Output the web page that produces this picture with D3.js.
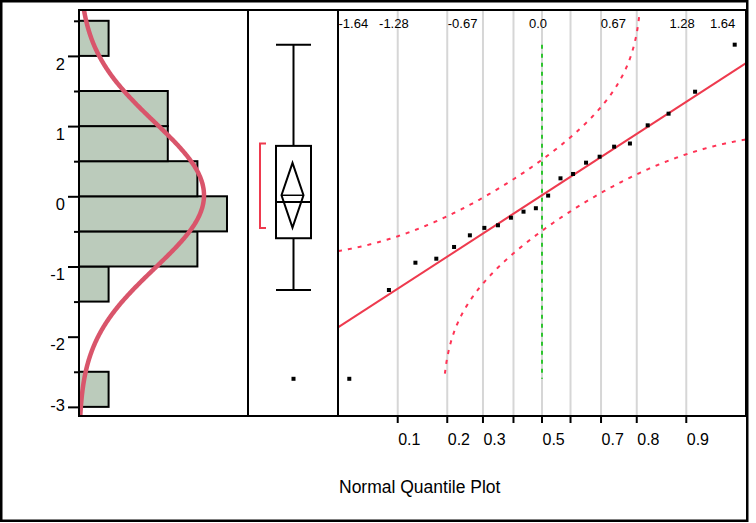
<!DOCTYPE html>
<html>
<head>
  <meta charset="UTF-8">
  <script src="https://d3js.org/d3.v7.min.js"></script>
</head>
<body style="margin:0;background:#fff">
  <svg id="chart" width="756" height="523"></svg>
<style>
  text { font-family: 'Liberation Sans', Arial, sans-serif; fill: #000; }
  .frame { stroke: #000; stroke-width: 2; fill: none; }
</style>
<script>
  // data (sorted)
  const values = [-2.60, -1.335, -0.946, -0.889, -0.722, -0.556, -0.45, -0.413, -0.305, -0.219,
                  -0.17, 0.01, 0.256, 0.318, 0.479, 0.564, 0.707, 0.752, 1.011, 1.177, 1.49, 2.16];
  const yMajor = [-3, -2, -1, 0, 1, 2];
  const yMinor = [-2.5, -1.5, -0.5, 0.5, 1.5, 2.5];
  const probTicks = [0.1, 0.2, 0.3, 0.4, 0.5, 0.6, 0.7, 0.8, 0.9];
  const probLabels = ['0.1', '0.2', '0.3', '', '0.5', '', '0.7', '0.8', '0.9'];
  const zTicks = [-1.64, -1.28, -0.67, 0, 0.67, 1.28, 1.64];
  const zLabels = ['-1.64', '-1.28', '-0.67', '0.0', '0.67', '1.28', '1.64'];
  const binEdges = [-3, -2.5, -2, -1.5, -1, -0.5, 0, 0.5, 1, 1.5, 2, 2.5];
  const lillieD = 0.187;

  // normal helpers
  function normCdf(x) {
    const t = 1 / (1 + 0.2316419 * Math.abs(x));
    const p = 0.3989423 * Math.exp(-x * x / 2) *
      t * (0.3193815 + t * (-0.3565638 + t * (1.781478 + t * (-1.821256 + t * 1.330274))));
    return x > 0 ? 1 - p : p;
  }
  function probit(p) {
    const a = [-3.969683028665376e+01, 2.209460984245205e+02, -2.759285104469687e+02, 1.383577518672690e+02, -3.066479806614716e+01, 2.506628277459239e+00];
    const b = [-5.447609879822406e+01, 1.615858368580409e+02, -1.556989798598866e+02, 6.680131188771972e+01, -1.328068155288572e+01];
    const c = [-7.784894002430293e-03, -3.223964580411365e-01, -2.400758277161838e+00, -2.549732539343734e+00, 4.374664141464968e+00, 2.938163982698783e+00];
    const d = [7.784695709041462e-03, 3.224671290700398e-01, 2.445134137142996e+00, 3.754408661907416e+00];
    const pl = 0.02425;
    let q, r;
    if (p < pl) {
      q = Math.sqrt(-2 * Math.log(p));
      return (((((c[0]*q+c[1])*q+c[2])*q+c[3])*q+c[4])*q+c[5]) / ((((d[0]*q+d[1])*q+d[2])*q+d[3])*q+1);
    } else if (p <= 1 - pl) {
      q = p - 0.5; r = q * q;
      return (((((a[0]*r+a[1])*r+a[2])*r+a[3])*r+a[4])*r+a[5])*q / (((((b[0]*r+b[1])*r+b[2])*r+b[3])*r+b[4])*r+1);
    }
    q = Math.sqrt(-2 * Math.log(1 - p));
    return -(((((c[0]*q+c[1])*q+c[2])*q+c[3])*q+c[4])*q+c[5]) / ((((d[0]*q+d[1])*q+d[2])*q+d[3])*q+1);
  }

  const n = values.length;
  const mean = d3.mean(values), sd = d3.deviation(values);

  // layout
  const xL = 79, xH = 248, xB = 338, xR = 746, yT = 10, yBt = 416;
  const svg = d3.select('#chart');

  const y = d3.scaleLinear().domain([-3.13, 2.654]).range([yBt, yT]);
  const cx = d3.scaleLinear().domain([0, 5.71]).range([xL, xH]);
  const zx = d3.scaleLinear().domain([-1.812, 1.812]).range([xB, xR]);

  // outer border
  svg.append('rect').attr('x', 1.25).attr('y', 1.25).attr('width', 746).attr('height', 519.5)
    .attr('fill', 'none').attr('stroke', '#000').attr('stroke-width', 2.5);

  // ---- histogram
  const bins = d3.bin().domain([-3, 2.5]).thresholds(binEdges.slice(1, -1))(values);
  svg.append('g').selectAll('rect').data(bins.filter(b => b.length > 0)).join('rect')
    .attr('x', xL)
    .attr('y', b => y(b.x1))
    .attr('width', b => cx(b.length) - xL)
    .attr('height', b => y(b.x0) - y(b.x1))
    .attr('fill', '#bbcbbb').attr('stroke', '#000').attr('stroke-width', 2);

  const curveY = d3.range(0, 301).map(i => -3.13 + i * (2.654 + 3.13) / 300);
  const dens = v => n * 0.5 * Math.exp(-0.5 * ((v - mean) / sd) ** 2) / (sd * Math.sqrt(2 * Math.PI));
  svg.append('path').datum(curveY)
    .attr('d', d3.line().x(v => cx(dens(v))).y(v => y(v)).curve(d3.curveBasis))
    .attr('fill', 'none').attr('stroke', '#d9556b').attr('stroke-width', 4.5);

  // y axis (labels hang below the tick, kept inside the plot at the bottom)
  const ax = svg.append('g').attr('transform', `translate(${xL},0)`)
    .call(d3.axisLeft(y).tickValues(yMajor).tickSize(11).tickPadding(3).tickFormat(d => String(d)));
  ax.select('.domain').remove();
  ax.selectAll('line').attr('stroke-width', 2);
  ax.selectAll('text').style('font-size', '16.5px').attr('dy', null)
    .attr('y', d => Math.min(13.2, yBt - 6 - y(d)));
  const axm = svg.append('g').attr('transform', `translate(${xL},0)`)
    .call(d3.axisLeft(y).tickValues(yMinor).tickSize(5).tickFormat(''));
  axm.select('.domain').remove();
  axm.selectAll('line').attr('stroke-width', 2);

  // ---- box plot
  const bxC = 293.5, bxW = 17.5, dW = 11;
  const p = t => { const h = t * (n + 1) - 1, i = Math.floor(h); return values[i] + (h - i) * (values[i + 1] - values[i]); };
  const Q1 = p(0.25), Q3 = p(0.75), med = d3.median(values);
  const iqr = Q3 - Q1;
  const inside = values.filter(v => v >= Q1 - 1.5 * iqr && v <= Q3 + 1.5 * iqr);
  const wLo = d3.min(inside), wHi = d3.max(inside);
  const outl = values.filter(v => v < wLo || v > wHi);
  const bp = svg.append('g').attr('stroke', '#000').attr('stroke-width', 2).attr('fill', 'none');
  bp.append('line').attr('x1', bxC).attr('x2', bxC).attr('y1', y(wHi)).attr('y2', y(Q3));
  bp.append('line').attr('x1', bxC).attr('x2', bxC).attr('y1', y(Q1)).attr('y2', y(wLo));
  [wHi, wLo].forEach(v => bp.append('line').attr('x1', bxC - bxW).attr('x2', bxC + bxW).attr('y1', y(v)).attr('y2', y(v)));
  bp.append('rect').attr('x', bxC - bxW).attr('width', 2 * bxW).attr('y', y(Q3)).attr('height', y(Q1) - y(Q3));
  bp.append('line').attr('x1', bxC - bxW).attr('x2', bxC + bxW).attr('y1', y(med)).attr('y2', y(med));
  const ci = 2.080 * sd / Math.sqrt(n);
  bp.append('path').attr('d', `M${bxC - 1},${y(mean + ci)} L${bxC - 1 + dW},${y(mean)} L${bxC - 1},${y(mean - ci)} L${bxC - 1 - dW},${y(mean)} Z`);
  bp.append('line').attr('x1', bxC - 1 - dW).attr('x2', bxC - 1 + dW).attr('y1', y(mean)).attr('y2', y(mean)).attr('stroke-width', 1.5);
  // shortest half
  const k = Math.floor(n / 2) + 1;
  let best = 0;
  for (let i = 0; i + k - 1 < n; i++) if (values[i + k - 1] - values[i] < values[best + k - 1] - values[best]) best = i;
  const sLo = values[best], sHi = values[best + k - 1];
  svg.append('path').attr('d', `M266,${y(sHi)} H260 V${y(sLo)} H266`)
    .attr('fill', 'none').attr('stroke', '#ee3a4e').attr('stroke-width', 2);
  svg.append('g').selectAll('rect').data(outl).join('rect')
    .attr('x', bxC - 2).attr('y', v => y(v) - 2).attr('width', 4).attr('height', 4).attr('fill', '#000');

  // ---- quantile plot
  const grid = svg.append('g');
  grid.selectAll('line').data(probTicks).join('line')
    .attr('x1', d => zx(probit(d))).attr('x2', d => zx(probit(d)))
    .attr('y1', yT).attr('y2', yBt).attr('stroke', '#d6d6d6').attr('stroke-width', 2);

  const yMin = d3.min(values), yMax = d3.max(values);
  svg.append('line').attr('x1', zx(0)).attr('x2', zx(0)).attr('y1', y(yMax)).attr('y2', y(yMin))
    .attr('stroke', '#2ec52e').attr('stroke-width', 2).attr('stroke-dasharray', '4,5');

  // fit line
  svg.append('line').attr('x1', zx(-1.812)).attr('x2', zx(1.812))
    .attr('y1', y(mean - 1.812 * sd)).attr('y2', y(mean + 1.812 * sd))
    .attr('stroke', '#ee3a4e').attr('stroke-width', 2);

  // Lilliefors bands
  const zs = d3.range(0, 1001).map(i => -1.812 + i * 3.624 / 1000);
  [lillieD, -lillieD].forEach(dd => {
    const pts = zs.map(z => normCdf(z) + dd).map((pp, i) => [zs[i], pp]).filter(a => a[1] > 0.0068 && a[1] < 0.9932);
    svg.append('path').datum(pts)
      .attr('d', d3.line().x(a => zx(a[0])).y(a => y(mean + sd * probit(a[1]))))
      .attr('fill', 'none').attr('stroke', '#ff3355').attr('stroke-width', 2).attr('stroke-dasharray', '4,6');
  });

  // points
  svg.append('g').selectAll('rect').data(values).join('rect')
    .attr('x', (v, i) => zx(probit((i + 1) / (n + 1))) - 2)
    .attr('y', v => y(v) - 2).attr('width', 4).attr('height', 4).attr('fill', '#000');

  // top z labels
  svg.append('g').selectAll('text').data(zTicks).join('text')
    .attr('x', d => zx(d) - 4).attr('y', 28.3).attr('text-anchor', 'middle')
    .style('font-size', '13px').text((d, i) => zLabels[i]);

  // bottom probability axis
  const bt = svg.append('g');
  bt.selectAll('line').data(probTicks).join('line')
    .attr('x1', d => zx(probit(d))).attr('x2', d => zx(probit(d)))
    .attr('y1', yBt).attr('y2', yBt + 7).attr('stroke', '#000').attr('stroke-width', 2);
  bt.selectAll('text').data(probTicks).join('text')
    .attr('x', d => zx(probit(d)) + 0.5).attr('y', 445).style('font-size', '16px')
    .text((d, i) => probLabels[i]);

  svg.append('text').attr('x', 339).attr('y', 492.5).style('font-size', '17.5px').text('Normal Quantile Plot');

  // frames
  const fr = svg.append('g').attr('class', 'frame');
  fr.append('line').attr('x1', xL).attr('x2', xR).attr('y1', yT).attr('y2', yT);
  fr.append('line').attr('x1', xL).attr('x2', xR).attr('y1', yBt).attr('y2', yBt);
  [xL, xH, xB, xR].forEach(xx => fr.append('line').attr('x1', xx).attr('x2', xx).attr('y1', yT - 1).attr('y2', yBt + 1));
</script>
</body>
</html>
